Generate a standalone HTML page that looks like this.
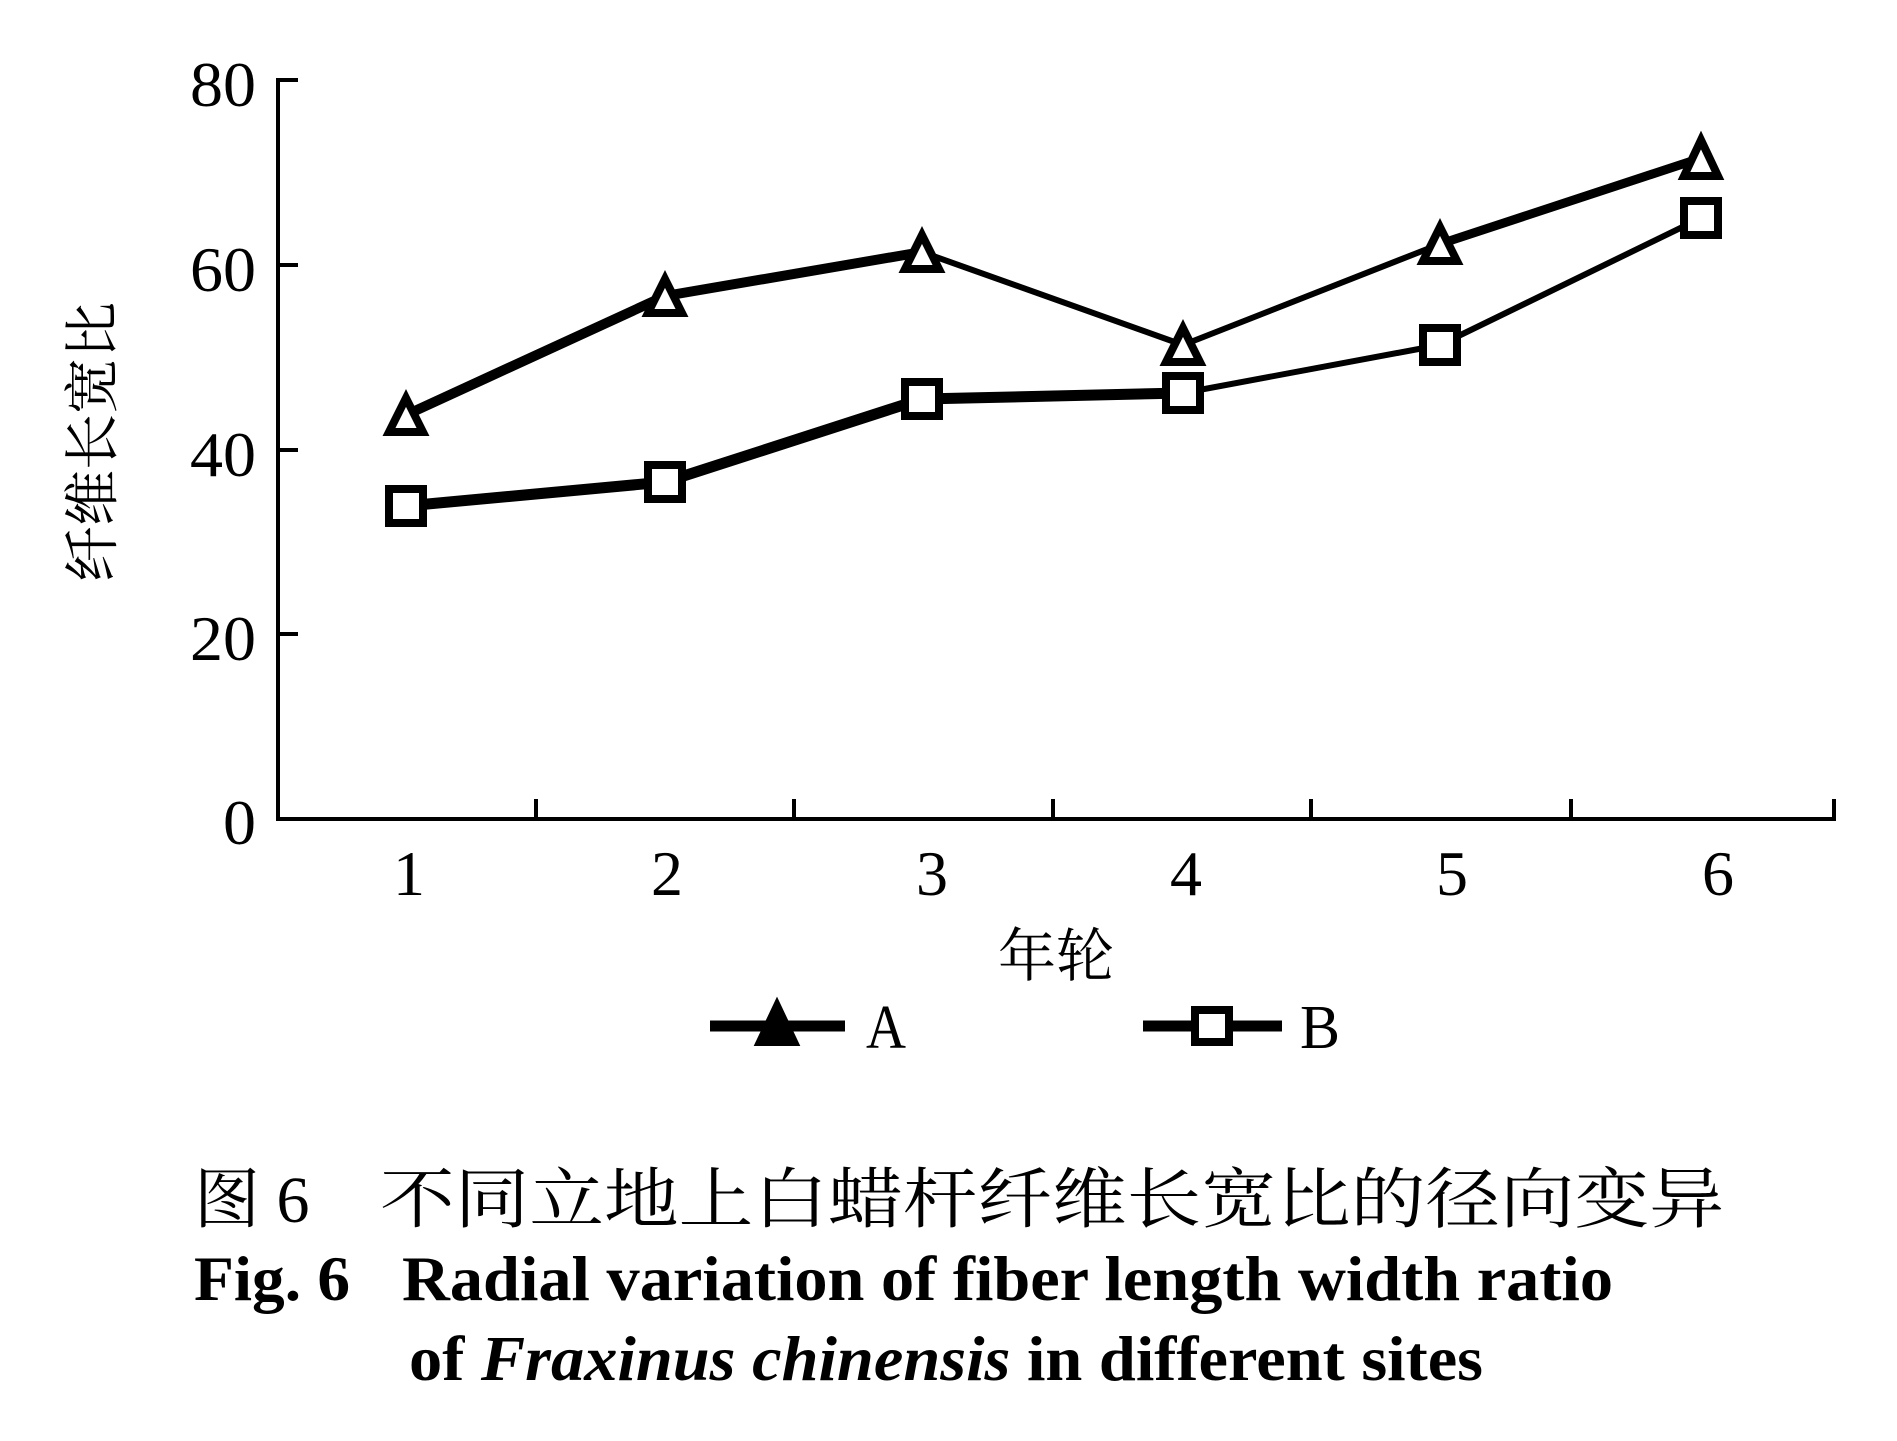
<!DOCTYPE html>
<html><head><meta charset="utf-8"><style>html,body{margin:0;padding:0;background:#fff}svg{display:block}</style></head>
<body>
<svg width="1897" height="1441" viewBox="0 0 1897 1441" xmlns="http://www.w3.org/2000/svg" xml:space="preserve">
<g stroke="#000" stroke-width="4" fill="none">
<line x1="278" y1="78" x2="278" y2="821"/>
<line x1="276" y1="819" x2="1836" y2="819"/>
<line x1="278" y1="80" x2="298" y2="80"/>
<line x1="278" y1="265" x2="298" y2="265"/>
<line x1="278" y1="450" x2="298" y2="450"/>
<line x1="278" y1="634" x2="298" y2="634"/>
<line x1="536" y1="819" x2="536" y2="799"/>
<line x1="794" y1="819" x2="794" y2="799"/>
<line x1="1053" y1="819" x2="1053" y2="799"/>
<line x1="1311" y1="819" x2="1311" y2="799"/>
<line x1="1571" y1="819" x2="1571" y2="799"/>
<line x1="1834" y1="819" x2="1834" y2="799"/>
</g>
<g font-family="Liberation Serif, serif" font-size="64" text-anchor="end" fill="#000">
<text x="256" y="106" textLength="66" lengthAdjust="spacingAndGlyphs">80</text>
<text x="256" y="291" textLength="66" lengthAdjust="spacingAndGlyphs">60</text>
<text x="256" y="476" textLength="66" lengthAdjust="spacingAndGlyphs">40</text>
<text x="256" y="660" textLength="66" lengthAdjust="spacingAndGlyphs">20</text>
<text x="256" y="844" textLength="33" lengthAdjust="spacingAndGlyphs">0</text>
</g>
<g font-family="Liberation Serif, serif" font-size="64" text-anchor="middle" fill="#000">
<text x="409" y="895">1</text>
<text x="667" y="895">2</text>
<text x="932" y="895">3</text>
<text x="1186" y="895">4</text>
<text x="1452" y="895">5</text>
<text x="1718" y="895">6</text>
</g>
<text transform="translate(112,442) rotate(-90)" font-family="Liberation Serif, 'Noto Serif CJK SC', serif" font-size="56" text-anchor="middle" fill="#000">纤维长宽比</text>
<text x="1056" y="976" font-family="Liberation Serif, 'Noto Serif CJK SC', serif" font-size="58" text-anchor="middle" fill="#000">年轮</text>
<g stroke="#000" fill="none" stroke-linejoin="round">
<polyline points="406,415 665,296 922,252" stroke-width="10"/>
<polyline points="922,252 1183,345 1440,244" stroke-width="6"/>
<polyline points="1440,244 1701,158" stroke-width="9"/>
<polyline points="406,506 665,482 922,399 1183,393" stroke-width="11"/>
<polyline points="1183,393 1440,345 1701,218" stroke-width="6"/>
</g>
<g stroke="#000" stroke-width="8" fill="#fff">
<polygon points="406,398 423,432 389,432"/>
<polygon points="665,279 682,313 648,313"/>
<polygon points="922,235 939,269 905,269"/>
<polygon points="1183,328 1200,362 1166,362"/>
<polygon points="1440,227 1457,261 1423,261"/>
<polygon points="1701,140 1718,176 1684,176"/>
<rect x="389" y="489" width="34" height="34"/>
<rect x="648" y="465" width="34" height="34"/>
<rect x="905" y="382" width="34" height="34"/>
<rect x="1166" y="376" width="34" height="34"/>
<rect x="1423" y="328" width="34" height="34"/>
<rect x="1684" y="201" width="34" height="34"/>
</g>
<g stroke="#000">
<line x1="710" y1="1026" x2="845" y2="1026" stroke-width="11"/>
<polygon points="777,1006 794,1042 760,1042" stroke-width="8" fill="#000"/>
<line x1="1143" y1="1026" x2="1282" y2="1026" stroke-width="11"/>
<rect x="1195" y="1010" width="34" height="32" stroke-width="8" fill="#fff"/>
</g>
<g font-family="Liberation Serif, serif" font-size="62" fill="#000">
<text x="866" y="1048" textLength="40" lengthAdjust="spacingAndGlyphs">A</text>
<text x="1300" y="1048" textLength="40" lengthAdjust="spacingAndGlyphs">B</text>
</g>
<text x="194" y="1222" font-family="Liberation Serif, 'Noto Serif CJK SC', serif" font-size="66" fill="#000">图 6</text>
<text x="380" y="1222" font-family="Liberation Serif, 'Noto Serif CJK SC', serif" font-size="66" fill="#000" textLength="1344" lengthAdjust="spacingAndGlyphs">不同立地上白蜡杆纤维长宽比的径向变异</text>
<text x="194" y="1300" font-family="Liberation Serif, serif" font-weight="bold" font-size="64" fill="#000" textLength="156" lengthAdjust="spacingAndGlyphs">Fig. 6</text>
<text x="402" y="1300" font-family="Liberation Serif, serif" font-weight="bold" font-size="64" fill="#000" textLength="1211" lengthAdjust="spacingAndGlyphs">Radial variation of fiber length width ratio</text>
<text x="409" y="1380" font-family="Liberation Serif, serif" font-weight="bold" font-size="64" fill="#000" textLength="1074" lengthAdjust="spacingAndGlyphs">of <tspan font-style="italic">Fraxinus chinensis</tspan> in different sites</text>
</svg>
</body></html>
